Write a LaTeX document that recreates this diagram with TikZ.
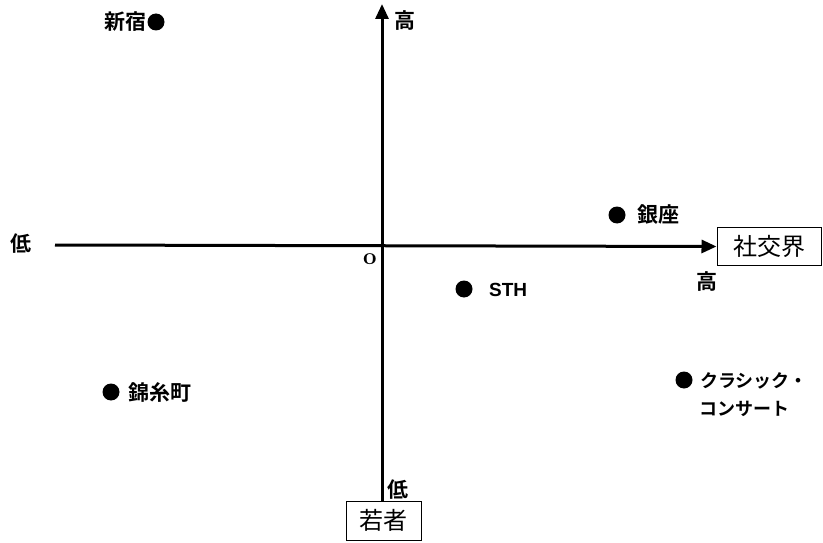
\documentclass[tikz,border=0pt]{standalone}
\usepackage{fontspec}
\newfontfamily\jp{Noto Sans CJK JP}
\newfontfamily\jpb{Noto Sans CJK JP Bold}
\usetikzlibrary{arrows.meta}
\begin{document}
\begin{tikzpicture}[x=1pt,y=-1pt,
  axis/.style={line width=3pt,-{Triangle[length=15pt,width=13pt]}},
  dot/.style={circle,fill=black,inner sep=0pt,minimum size=17pt},
  place/.style={font=\jpb\fontsize{21}{24}\selectfont,inner sep=0pt},
  kana/.style={font=\jpb\fontsize{18}{20}\selectfont,inner sep=0pt},
  lab/.style={font=\jpb\fontsize{21}{24}\selectfont,inner sep=0pt},
  boxed/.style={draw,line width=1pt,font=\jp\fontsize{24}{26}\selectfont,inner sep=0pt}]
\useasboundingbox (0,0) rectangle (823,543);
% boxes
\node[boxed,minimum width=104pt,minimum height=38pt] (shakou) at (769,246.5) {社交界};
\node[boxed,minimum width=75pt,minimum height=39pt] (waka) at (383.5,520.5) {若者};
% axes
\coordinate (ytop) at (382,4);
\coordinate (xleft) at (55,245);
\draw[axis] (waka.north -| ytop) -- (ytop);
\draw[axis] (xleft) -- (shakou.west);
% axis labels
\node[lab] (yhigh) at (405,21) {高};
\node[lab] (ylow) at (398,490) {低};
\node[lab] (xlow) at (21,244) {低};
\node[lab] (xhigh) at (707,282) {高};
\node[font=\bfseries\fontsize{24}{26}\selectfont,inner sep=0pt] (origin) at (370,259) {o};
% places
\node[dot] (d1) at (156,22) {};
\node[place,anchor=east] (t1) at (147,22) {新宿};
\node[dot] (d2) at (617,215) {};
\node[place,anchor=west] (t2) at (637,215) {銀座};
\node[dot] (d3) at (464,289) {};
\node[font=\fontspec{Liberation Sans}\bfseries\fontsize{19}{21}\selectfont,anchor=west,inner sep=0pt] (t3) at (489,290) {STH};
\node[dot] (d4) at (111,392) {};
\node[place,anchor=west] (t4) at (128,392) {錦糸町};
\node[dot] (d5) at (684,380) {};
\node[kana,anchor=west] (t5) at (700,381) {クラシック・};
\node[kana,anchor=west] (t6) at (699,409) {コンサート};
\end{tikzpicture}
\end{document}
